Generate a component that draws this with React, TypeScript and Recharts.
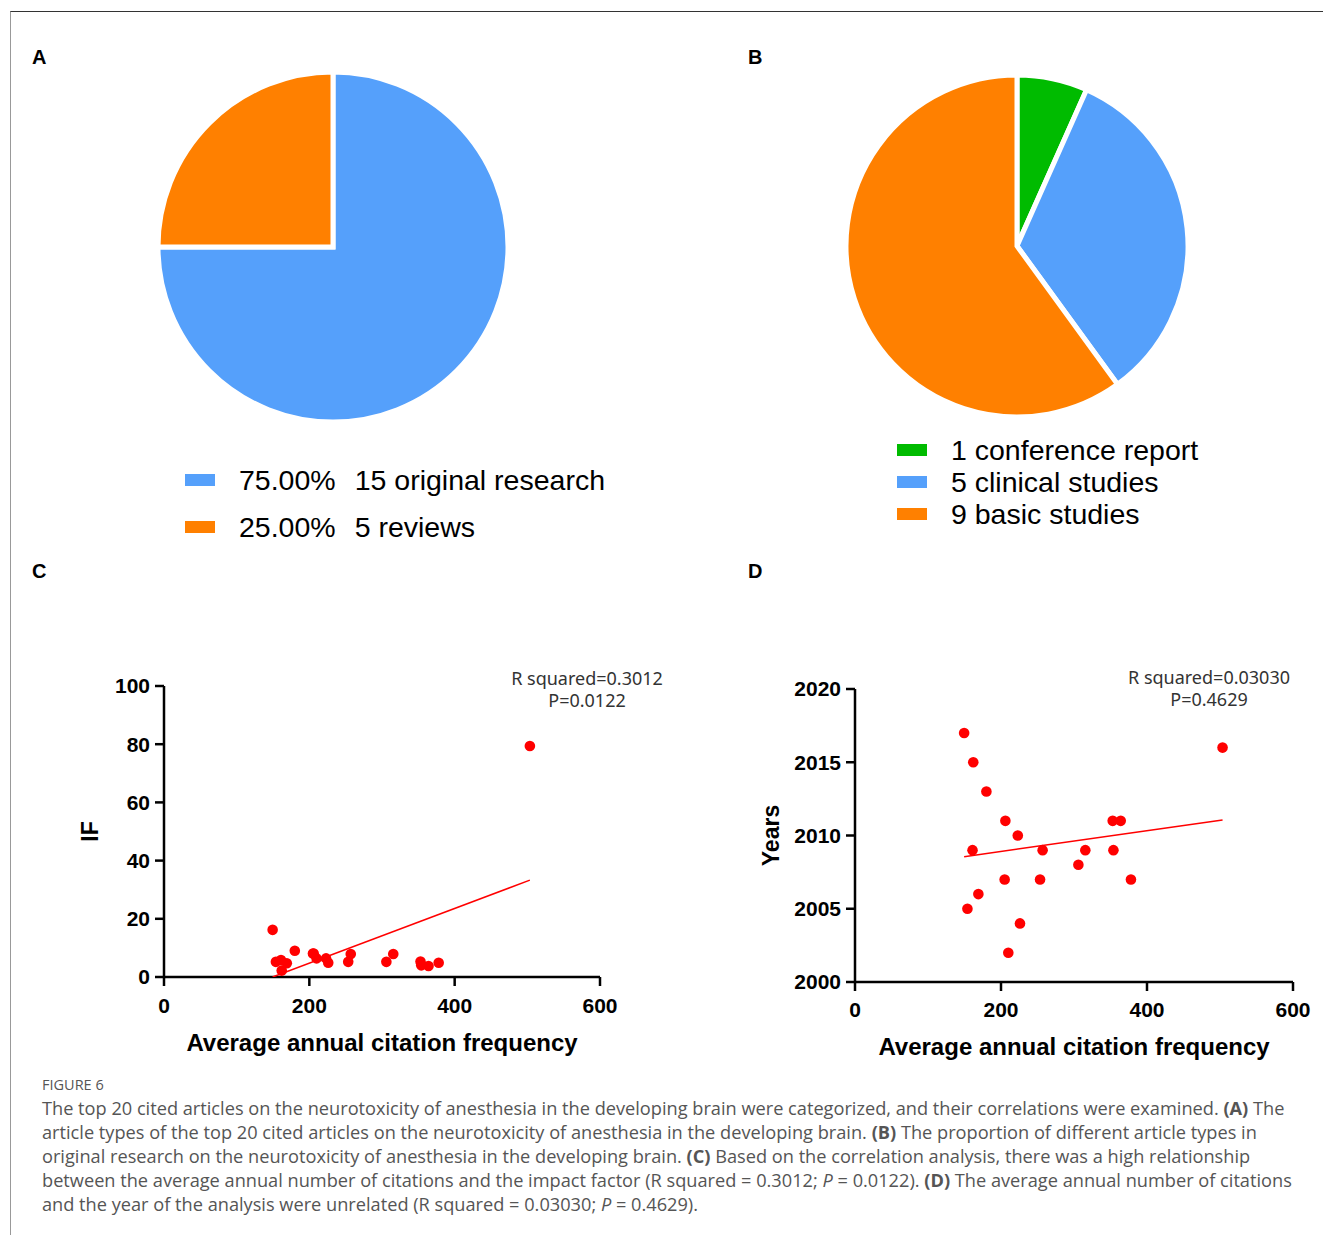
import React from 'react';
import { PieChart, Pie, Cell, ScatterChart, Scatter, XAxis, YAxis, Label } from 'recharts';

// ---------- Data ----------
const articleTypes = ['original research', 'reviews'];
const articleCounts = [15, 5];
const articlePercents = ['75.00%', '25.00%'];
const articleColors = ['#55A0FB', '#FF8000'];

const studyTypes = ['conference report', 'clinical studies', 'basic studies'];
const studyCounts = [1, 5, 9];
const studyColors = ['#00BB00', '#55A0FB', '#FF8000'];

const citations = [149.5, 154, 161, 162, 169, 180, 205, 206, 210, 223, 226, 253.5, 257, 306, 315.5, 353, 354, 364, 378, 503.5];
const impactFactors = [16.2, 5.2, 5.8, 2.2, 4.7, 9.0, 8.1, 8.1, 6.4, 6.4, 4.9, 5.2, 7.9, 5.2, 7.9, 5.3, 4.0, 3.8, 4.9, 79.4];
const pubYears = [2017, 2005, 2009, 2015, 2006, 2013, 2007, 2011, 2002, 2010, 2004, 2007, 2009, 2008, 2009, 2011, 2009, 2011, 2007, 2016];

const fitCX = [149.5, 503.5];
const fitCY = [0.0, 33.3];
const fitDX = [149.5, 503.5];
const fitDY = [2008.55, 2011.06];

const xTicks = [0, 200, 400, 600];
const ifTicks = [0, 20, 40, 60, 80, 100];
const yearTicks = [2000, 2005, 2010, 2015, 2020];

const statsC = ['R squared=0.3012', 'P=0.0122'];
const statsD = ['R squared=0.03030', 'P=0.4629'];

const xLabel = 'Average annual citation frequency';

// ---------- Derived tables ----------
const pieA = articleTypes.map((t, i) => ({ name: t, value: articleCounts[i] }));
const pieB = studyTypes.map((t, i) => ({ name: t, value: studyCounts[i] }));
const pointsC = citations.map((c, i) => ({ x: c, y: impactFactors[i] }));
const pointsD = citations.map((c, i) => ({ x: c, y: pubYears[i] }));
const lineC = fitCX.map((x, i) => ({ x, y: fitCY[i] }));
const lineD = fitDX.map((x, i) => ({ x, y: fitDY[i] }));

const ARIAL = '"Liberation Sans", Arial, Helvetica, sans-serif';
const SEGOE = '"Noto Sans", "Open Sans", sans-serif';

const abs = (left: number, top: number, extra: React.CSSProperties = {}): React.CSSProperties => ({
  position: 'absolute', left, top, ...extra,
});

const PanelLetter = ({ x, y, t }: { x: number; y: number; t: string }) => (
  <div style={abs(x, y - 12, { fontFamily: ARIAL, fontWeight: 700, fontSize: 20, lineHeight: '24px', color: '#000' })}>{t}</div>
);

const Dot = (p: any) => <circle cx={p.cx} cy={p.cy} r={5.3} fill="#FF0000" />;
const NoShape = () => <g />;

const tickStyle = { fill: '#000', fontSize: 21, fontWeight: 700, fontFamily: ARIAL };
const axisLine = { stroke: '#000', strokeWidth: 2.5 };

function ScatterPanel(props: {
  left: number; top: number; width: number; height: number;
  margin: { top: number; right: number; left: number; bottom: number };
  yWidth: number; xHeight: number; xTickMargin: number; xLabelDy: number;
  yDomain: [number, number]; yTicks: number[]; yLabel: string; yLabelDx: number;
  points: { x: number; y: number }[]; line: { x: number; y: number }[];
}) {
  const { left, top, width, height, margin, yWidth, xHeight, xTickMargin, xLabelDy, yDomain, yTicks, yLabel, yLabelDx, points, line } = props;
  return (
    <div style={abs(left, top)}>
      <ScatterChart width={width} height={height} margin={margin}>
        <XAxis
          type="number" dataKey="x" domain={[0, 600]} ticks={xTicks} allowDataOverflow
          height={xHeight} tickSize={9} tickMargin={xTickMargin} tick={tickStyle}
          axisLine={axisLine} tickLine={axisLine}
        >
          <Label
            content={(lp: any) => {
              const vb = lp.viewBox;
              return (
                <text x={vb.x + vb.width / 2} y={vb.y + xLabelDy} textAnchor="middle" dominantBaseline="central"
                  style={{ fontFamily: ARIAL, fontWeight: 700, fontSize: 24, fill: '#000' }}>{xLabel}</text>
              );
            }}
          />
        </XAxis>
        <YAxis
          type="number" dataKey="y" domain={yDomain} ticks={yTicks} allowDataOverflow
          width={yWidth} tickSize={9} tickMargin={5} tick={tickStyle}
          axisLine={axisLine} tickLine={axisLine}
        >
          <Label
            content={(lp: any) => {
              const vb = lp.viewBox;
              const cx = vb.x + vb.width - yLabelDx;
              const cy = vb.y + vb.height / 2;
              return (
                <text x={cx} y={cy} transform={`rotate(-90 ${cx} ${cy})`} textAnchor="middle" dominantBaseline="central"
                  style={{ fontFamily: ARIAL, fontWeight: 700, fontSize: 23, fill: '#000' }}>{yLabel}</text>
              );
            }}
          />
        </YAxis>
        <Scatter data={line} line={{ stroke: '#FF0000', strokeWidth: 1.5 }} shape={NoShape} isAnimationActive={false} />
        <Scatter data={points} shape={Dot} isAnimationActive={false} />
      </ScatterChart>
    </div>
  );
}

const StatText = ({ cx, y, lines }: { cx: number; y: number; lines: string[] }) => (
  <div style={abs(cx - 120, y - 11, { width: 240, textAlign: 'center', fontFamily: SEGOE, fontSize: 18, lineHeight: '22px', color: '#333' })}>
    {lines.map((l) => <div key={l}>{l}</div>)}
  </div>
);

const captionLines: React.ReactNode[] = [
  <>The top 20 cited articles on the neurotoxicity of anesthesia in the developing brain were categorized, and their correlations were examined. <b>(A)</b> The</>,
  <>article types of the top 20 cited articles on the neurotoxicity of anesthesia in the developing brain. <b>(B)</b> The proportion of different article types in</>,
  <>original research on the neurotoxicity of anesthesia in the developing brain. <b>(C)</b> Based on the correlation analysis, there was a high relationship</>,
  <>between the average annual number of citations and the impact factor (R squared = 0.3012; <i>P</i> = 0.0122). <b>(D)</b> The average annual number of citations</>,
  <>and the year of the analysis were unrelated (R squared = 0.03030; <i>P</i> = 0.4629).</>,
];

export default function App() {
  return (
    <div style={{ position: 'absolute', left: 0, top: 0, width: 1323, height: 1235, background: '#fff', overflow: 'hidden' }}>
      {/* frame */}
      <div style={abs(10, 11, { width: 1313, height: 1224, borderTop: '1.5px solid #333', borderLeft: '1.5px solid #999', boxSizing: 'border-box' })} />

      <PanelLetter x={32} y={57} t="A" />
      <PanelLetter x={748} y={57} t="B" />
      <PanelLetter x={32} y={571} t="C" />
      <PanelLetter x={748} y={571} t="D" />

      {/* Pie A */}
      <div style={abs(0, 40)}>
        <PieChart width={660} height={420}>
          <Pie data={pieA} dataKey="value" cx={328} cy={202} outerRadius={175} startAngle={90} endAngle={-270}
            stroke="#fff" strokeWidth={5} isAnimationActive={false}>
            {pieA.map((d, i) => <Cell key={d.name} fill={articleColors[i]} />)}
          </Pie>
        </PieChart>
      </div>
      {articleTypes.map((t, i) => (
        <div key={t} style={abs(185, 480 + i * 47 - 17, { height: 34, display: 'flex', alignItems: 'center', fontFamily: ARIAL, fontSize: 28.5, color: '#000', whiteSpace: 'pre' })}>
          <div style={{ width: 30, height: 12, background: articleColors[i], marginRight: 24 }} />
          <span style={{ marginRight: 19 }}>{articlePercents[i]}</span>
          <span>{`${articleCounts[i]} ${t}`}</span>
        </div>
      ))}

      {/* Pie B */}
      <div style={abs(680, 40)}>
        <PieChart width={643} height={420}>
          <Pie data={pieB} dataKey="value" cx={332} cy={201} outerRadius={171} startAngle={90} endAngle={-270}
            stroke="#fff" strokeWidth={5} isAnimationActive={false}>
            {pieB.map((d, i) => <Cell key={d.name} fill={studyColors[i]} />)}
          </Pie>
        </PieChart>
      </div>
      {studyTypes.map((t, i) => (
        <div key={t} style={abs(897, 450 + i * 32 - 17, { height: 34, display: 'flex', alignItems: 'center', fontFamily: ARIAL, fontSize: 28.5, color: '#000', whiteSpace: 'pre' })}>
          <div style={{ width: 30, height: 12, background: studyColors[i], marginRight: 24 }} />
          <span>{`${studyCounts[i]} ${t}`}</span>
        </div>
      ))}

      {/* Scatter C */}
      <ScatterPanel
        left={20} top={640} width={620} height={430}
        margin={{ top: 46, right: 40, left: 0, bottom: 0 }}
        yWidth={144} xHeight={93} xTickMargin={12} xLabelDy={65}
        yDomain={[0, 100]} yTicks={ifTicks} yLabel="IF" yLabelDx={74}
        points={pointsC} line={lineC}
      />
      <StatText cx={587} y={678} lines={statsC} />

      {/* Scatter D */}
      <ScatterPanel
        left={710} top={640} width={623} height={435}
        margin={{ top: 49, right: 40, left: 0, bottom: 0 }}
        yWidth={145} xHeight={93} xTickMargin={11} xLabelDy={64}
        yDomain={[2000, 2020]} yTicks={yearTicks} yLabel="Years" yLabelDx={84}
        points={pointsD} line={lineD}
      />
      <StatText cx={1209} y={677} lines={statsD} />

      {/* Caption */}
      <div style={abs(42, 1075, { fontFamily: '"Open Sans", sans-serif', fontSize: 14.5, lineHeight: '20px', color: '#555' })}>FIGURE 6</div>
      {captionLines.map((l, i) => (
        <div key={i} style={abs(42, 1108 + i * 24 - 12, { fontFamily: '"Open Sans", sans-serif', fontSize: 18.2, lineHeight: '24px', color: '#555', whiteSpace: 'nowrap' })}>{l}</div>
      ))}
    </div>
  );
}
